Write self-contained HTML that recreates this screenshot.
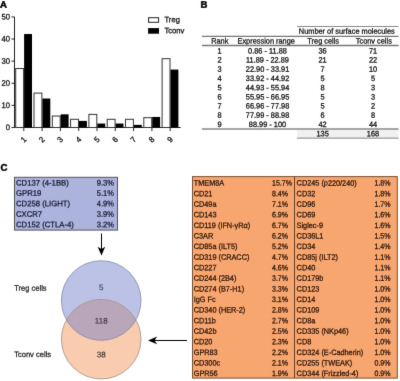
<!DOCTYPE html>
<html><head><meta charset="utf-8"><style>
html,body{margin:0;padding:0;background:#fff;width:400px;height:381px;overflow:hidden}
svg{display:block;font-family:"Liberation Sans", sans-serif}
</style></head><body>
<svg width="400" height="381" viewBox="0 0 400 381">
<defs><filter id="bl" x="0" y="0" width="400" height="381" filterUnits="userSpaceOnUse" color-interpolation-filters="sRGB"><feConvolveMatrix order="3" kernelMatrix="1 10 1 10 100 10 1 10 1" divisor="144" edgeMode="duplicate"/></filter></defs>
<g filter="url(#bl)">
<rect width="400" height="381" fill="#fff"/>
<text transform="translate(0.10,7.70) rotate(0.05) scale(1.000,1.0)" font-size="9.6" text-anchor="start" fill="#000" stroke="#000" stroke-width="0.45" font-weight="bold">A</text>
<line x1="14.5" y1="17" x2="14.5" y2="127.5" stroke="#222" stroke-width="1"/>
<line x1="11.5" y1="127.5" x2="14.5" y2="127.5" stroke="#222" stroke-width="1"/>
<text transform="translate(10.00,130.10) rotate(0.05) scale(0.955,1.0)" font-size="8.0" text-anchor="end" fill="#111" stroke="#111" stroke-width="0.3" font-weight="normal">0</text>
<line x1="11.5" y1="105.38" x2="14.5" y2="105.38" stroke="#222" stroke-width="1"/>
<text transform="translate(10.00,107.98) rotate(0.05) scale(0.955,1.0)" font-size="8.0" text-anchor="end" fill="#111" stroke="#111" stroke-width="0.3" font-weight="normal">10</text>
<line x1="11.5" y1="83.25999999999999" x2="14.5" y2="83.25999999999999" stroke="#222" stroke-width="1"/>
<text transform="translate(10.00,85.86) rotate(0.05) scale(0.955,1.0)" font-size="8.0" text-anchor="end" fill="#111" stroke="#111" stroke-width="0.3" font-weight="normal">20</text>
<line x1="11.5" y1="61.14" x2="14.5" y2="61.14" stroke="#222" stroke-width="1"/>
<text transform="translate(10.00,63.74) rotate(0.05) scale(0.955,1.0)" font-size="8.0" text-anchor="end" fill="#111" stroke="#111" stroke-width="0.3" font-weight="normal">30</text>
<line x1="11.5" y1="39.019999999999996" x2="14.5" y2="39.019999999999996" stroke="#222" stroke-width="1"/>
<text transform="translate(10.00,41.62) rotate(0.05) scale(0.955,1.0)" font-size="8.0" text-anchor="end" fill="#111" stroke="#111" stroke-width="0.3" font-weight="normal">40</text>
<line x1="11.5" y1="16.89999999999999" x2="14.5" y2="16.89999999999999" stroke="#222" stroke-width="1"/>
<text transform="translate(10.00,19.50) rotate(0.05) scale(0.955,1.0)" font-size="8.0" text-anchor="end" fill="#111" stroke="#111" stroke-width="0.3" font-weight="normal">50</text>
<line x1="14.5" y1="127.5" x2="180.7" y2="127.5" stroke="#222" stroke-width="1"/>
<rect x="15.700000000000001" y="68.51333333333332" width="7.9" height="58.98666666666667" fill="#fff" stroke="#333" stroke-width="1"/>
<rect x="24.1" y="34.016666666666666" width="7.9" height="93.48333333333333" fill="#000" stroke="none" stroke-width="1"/>
<line x1="23.8" y1="127.5" x2="23.8" y2="131.0" stroke="#222" stroke-width="1"/>
<text font-size="8.0" text-anchor="middle" fill="#111" stroke="#111" stroke-width="0.3" transform="translate(25.50,141.5) rotate(-45) scale(0.955,1)">1</text>
<rect x="34.0" y="93.0911111111111" width="7.9" height="34.40888888888889" fill="#fff" stroke="#333" stroke-width="1"/>
<rect x="42.4" y="98.53333333333333" width="7.9" height="28.966666666666672" fill="#000" stroke="none" stroke-width="1"/>
<line x1="42.1" y1="127.5" x2="42.1" y2="131.0" stroke="#222" stroke-width="1"/>
<text font-size="8.0" text-anchor="middle" fill="#111" stroke="#111" stroke-width="0.3" transform="translate(43.80,141.5) rotate(-45) scale(0.955,1)">2</text>
<rect x="52.300000000000004" y="116.03037037037038" width="7.9" height="11.46962962962963" fill="#fff" stroke="#333" stroke-width="1"/>
<rect x="60.7" y="114.33333333333333" width="7.9" height="13.166666666666666" fill="#000" stroke="none" stroke-width="1"/>
<line x1="60.400000000000006" y1="127.5" x2="60.400000000000006" y2="131.0" stroke="#222" stroke-width="1"/>
<text font-size="8.0" text-anchor="middle" fill="#111" stroke="#111" stroke-width="0.3" transform="translate(62.10,141.5) rotate(-45) scale(0.955,1)">3</text>
<rect x="70.60000000000001" y="119.30740740740741" width="7.9" height="8.192592592592593" fill="#fff" stroke="#333" stroke-width="1"/>
<rect x="79.0" y="120.91666666666667" width="7.9" height="6.583333333333333" fill="#000" stroke="none" stroke-width="1"/>
<line x1="78.7" y1="127.5" x2="78.7" y2="131.0" stroke="#222" stroke-width="1"/>
<text font-size="8.0" text-anchor="middle" fill="#111" stroke="#111" stroke-width="0.3" transform="translate(80.40,141.5) rotate(-45) scale(0.955,1)">4</text>
<rect x="88.9" y="114.39185185185185" width="7.9" height="13.10814814814815" fill="#fff" stroke="#333" stroke-width="1"/>
<rect x="97.3" y="123.55" width="7.9" height="3.95" fill="#000" stroke="none" stroke-width="1"/>
<line x1="97.0" y1="127.5" x2="97.0" y2="131.0" stroke="#222" stroke-width="1"/>
<text font-size="8.0" text-anchor="middle" fill="#111" stroke="#111" stroke-width="0.3" transform="translate(98.70,141.5) rotate(-45) scale(0.955,1)">5</text>
<rect x="107.2" y="119.30740740740741" width="7.9" height="8.192592592592593" fill="#fff" stroke="#333" stroke-width="1"/>
<rect x="115.6" y="123.55" width="7.9" height="3.95" fill="#000" stroke="none" stroke-width="1"/>
<line x1="115.3" y1="127.5" x2="115.3" y2="131.0" stroke="#222" stroke-width="1"/>
<text font-size="8.0" text-anchor="middle" fill="#111" stroke="#111" stroke-width="0.3" transform="translate(117.00,141.5) rotate(-45) scale(0.955,1)">6</text>
<rect x="125.50000000000003" y="119.30740740740741" width="7.9" height="8.192592592592593" fill="#fff" stroke="#333" stroke-width="1"/>
<rect x="133.90000000000003" y="124.86666666666666" width="7.9" height="2.6333333333333337" fill="#000" stroke="none" stroke-width="1"/>
<line x1="133.60000000000002" y1="127.5" x2="133.60000000000002" y2="131.0" stroke="#222" stroke-width="1"/>
<text font-size="8.0" text-anchor="middle" fill="#111" stroke="#111" stroke-width="0.3" transform="translate(135.30,141.5) rotate(-45) scale(0.955,1)">7</text>
<rect x="143.8" y="117.66888888888889" width="7.9" height="9.831111111111113" fill="#fff" stroke="#333" stroke-width="1"/>
<rect x="152.20000000000002" y="116.96666666666667" width="7.9" height="10.533333333333335" fill="#000" stroke="none" stroke-width="1"/>
<line x1="151.9" y1="127.5" x2="151.9" y2="131.0" stroke="#222" stroke-width="1"/>
<text font-size="8.0" text-anchor="middle" fill="#111" stroke="#111" stroke-width="0.3" transform="translate(153.60,141.5) rotate(-45) scale(0.955,1)">8</text>
<rect x="162.10000000000002" y="58.68222222222222" width="7.9" height="68.81777777777778" fill="#fff" stroke="#333" stroke-width="1"/>
<rect x="170.50000000000003" y="69.56666666666666" width="7.9" height="57.933333333333344" fill="#000" stroke="none" stroke-width="1"/>
<line x1="170.20000000000002" y1="127.5" x2="170.20000000000002" y2="131.0" stroke="#222" stroke-width="1"/>
<text font-size="8.0" text-anchor="middle" fill="#111" stroke="#111" stroke-width="0.3" transform="translate(171.90,141.5) rotate(-45) scale(0.955,1)">9</text>
<rect x="148.6" y="17.7" width="10" height="4.6" fill="#fff" stroke="#222" stroke-width="1"/>
<rect x="148.1" y="28.1" width="10.9" height="5.6" fill="#000" stroke="none" stroke-width="1"/>
<text transform="translate(164.50,22.30) rotate(0.05) scale(0.965,1.0)" font-size="7.9" text-anchor="start" fill="#111" stroke="#111" stroke-width="0.28" font-weight="normal">Treg</text>
<text transform="translate(164.50,33.20) rotate(0.05) scale(0.965,1.0)" font-size="7.9" text-anchor="start" fill="#111" stroke="#111" stroke-width="0.28" font-weight="normal">Tconv</text>
<text transform="translate(200.50,7.70) rotate(0.05) scale(1.000,1.0)" font-size="9.6" text-anchor="start" fill="#000" stroke="#000" stroke-width="0.45" font-weight="bold">B</text>
<rect x="297" y="129.5" width="101.5" height="8.3" fill="#f1f1f1" stroke="none" stroke-width="1"/>
<line x1="297" y1="26.5" x2="398.5" y2="26.5" stroke="#888" stroke-width="1"/>
<text transform="translate(346.80,33.80) rotate(0.05) scale(0.948,1.0)" font-size="7.8" text-anchor="middle" fill="#111" stroke="#111" stroke-width="0.28" font-weight="normal">Number of surface molecules</text>
<line x1="202" y1="36.3" x2="398.5" y2="36.3" stroke="#777" stroke-width="1.3"/>
<text transform="translate(219.80,43.60) rotate(0.05) scale(0.948,1.0)" font-size="7.8" text-anchor="middle" fill="#111" stroke="#111" stroke-width="0.28" font-weight="normal">Rank</text>
<text transform="translate(266.20,43.60) rotate(0.05) scale(0.948,1.0)" font-size="7.8" text-anchor="middle" fill="#111" stroke="#111" stroke-width="0.28" font-weight="normal">Expression range</text>
<text transform="translate(323.20,43.60) rotate(0.05) scale(0.948,1.0)" font-size="7.8" text-anchor="middle" fill="#111" stroke="#111" stroke-width="0.28" font-weight="normal">Treg cells</text>
<text transform="translate(373.80,43.60) rotate(0.05) scale(0.948,1.0)" font-size="7.8" text-anchor="middle" fill="#111" stroke="#111" stroke-width="0.28" font-weight="normal">Tconv cells</text>
<line x1="202" y1="45.5" x2="398.5" y2="45.5" stroke="#777" stroke-width="1.3"/>
<text transform="translate(219.50,53.40) rotate(0.05) scale(0.948,1.0)" font-size="7.8" text-anchor="middle" fill="#111" stroke="#111" stroke-width="0.28" font-weight="normal">1</text>
<text transform="translate(267.50,53.40) rotate(0.05) scale(0.948,1.0)" font-size="7.8" text-anchor="middle" fill="#111" stroke="#111" stroke-width="0.28" font-weight="normal">0.86 - 11.88</text>
<text transform="translate(322.60,53.40) rotate(0.05) scale(0.948,1.0)" font-size="7.8" text-anchor="middle" fill="#111" stroke="#111" stroke-width="0.28" font-weight="normal">36</text>
<text transform="translate(373.00,53.40) rotate(0.05) scale(0.948,1.0)" font-size="7.8" text-anchor="middle" fill="#111" stroke="#111" stroke-width="0.28" font-weight="normal">71</text>
<text transform="translate(219.50,62.60) rotate(0.05) scale(0.948,1.0)" font-size="7.8" text-anchor="middle" fill="#111" stroke="#111" stroke-width="0.28" font-weight="normal">2</text>
<text transform="translate(267.50,62.60) rotate(0.05) scale(0.948,1.0)" font-size="7.8" text-anchor="middle" fill="#111" stroke="#111" stroke-width="0.28" font-weight="normal">11.89 - 22.89</text>
<text transform="translate(322.60,62.60) rotate(0.05) scale(0.948,1.0)" font-size="7.8" text-anchor="middle" fill="#111" stroke="#111" stroke-width="0.28" font-weight="normal">21</text>
<text transform="translate(373.00,62.60) rotate(0.05) scale(0.948,1.0)" font-size="7.8" text-anchor="middle" fill="#111" stroke="#111" stroke-width="0.28" font-weight="normal">22</text>
<text transform="translate(219.50,71.80) rotate(0.05) scale(0.948,1.0)" font-size="7.8" text-anchor="middle" fill="#111" stroke="#111" stroke-width="0.28" font-weight="normal">3</text>
<text transform="translate(267.50,71.80) rotate(0.05) scale(0.948,1.0)" font-size="7.8" text-anchor="middle" fill="#111" stroke="#111" stroke-width="0.28" font-weight="normal">22.90 - 33.91</text>
<text transform="translate(322.60,71.80) rotate(0.05) scale(0.948,1.0)" font-size="7.8" text-anchor="middle" fill="#111" stroke="#111" stroke-width="0.28" font-weight="normal">7</text>
<text transform="translate(373.00,71.80) rotate(0.05) scale(0.948,1.0)" font-size="7.8" text-anchor="middle" fill="#111" stroke="#111" stroke-width="0.28" font-weight="normal">10</text>
<text transform="translate(219.50,81.00) rotate(0.05) scale(0.948,1.0)" font-size="7.8" text-anchor="middle" fill="#111" stroke="#111" stroke-width="0.28" font-weight="normal">4</text>
<text transform="translate(267.50,81.00) rotate(0.05) scale(0.948,1.0)" font-size="7.8" text-anchor="middle" fill="#111" stroke="#111" stroke-width="0.28" font-weight="normal">33.92 - 44.92</text>
<text transform="translate(322.60,81.00) rotate(0.05) scale(0.948,1.0)" font-size="7.8" text-anchor="middle" fill="#111" stroke="#111" stroke-width="0.28" font-weight="normal">5</text>
<text transform="translate(373.00,81.00) rotate(0.05) scale(0.948,1.0)" font-size="7.8" text-anchor="middle" fill="#111" stroke="#111" stroke-width="0.28" font-weight="normal">5</text>
<text transform="translate(219.50,90.20) rotate(0.05) scale(0.948,1.0)" font-size="7.8" text-anchor="middle" fill="#111" stroke="#111" stroke-width="0.28" font-weight="normal">5</text>
<text transform="translate(267.50,90.20) rotate(0.05) scale(0.948,1.0)" font-size="7.8" text-anchor="middle" fill="#111" stroke="#111" stroke-width="0.28" font-weight="normal">44.93 - 55.94</text>
<text transform="translate(322.60,90.20) rotate(0.05) scale(0.948,1.0)" font-size="7.8" text-anchor="middle" fill="#111" stroke="#111" stroke-width="0.28" font-weight="normal">8</text>
<text transform="translate(373.00,90.20) rotate(0.05) scale(0.948,1.0)" font-size="7.8" text-anchor="middle" fill="#111" stroke="#111" stroke-width="0.28" font-weight="normal">3</text>
<text transform="translate(219.50,99.40) rotate(0.05) scale(0.948,1.0)" font-size="7.8" text-anchor="middle" fill="#111" stroke="#111" stroke-width="0.28" font-weight="normal">6</text>
<text transform="translate(267.50,99.40) rotate(0.05) scale(0.948,1.0)" font-size="7.8" text-anchor="middle" fill="#111" stroke="#111" stroke-width="0.28" font-weight="normal">55.95 - 66.95</text>
<text transform="translate(322.60,99.40) rotate(0.05) scale(0.948,1.0)" font-size="7.8" text-anchor="middle" fill="#111" stroke="#111" stroke-width="0.28" font-weight="normal">5</text>
<text transform="translate(373.00,99.40) rotate(0.05) scale(0.948,1.0)" font-size="7.8" text-anchor="middle" fill="#111" stroke="#111" stroke-width="0.28" font-weight="normal">3</text>
<text transform="translate(219.50,108.60) rotate(0.05) scale(0.948,1.0)" font-size="7.8" text-anchor="middle" fill="#111" stroke="#111" stroke-width="0.28" font-weight="normal">7</text>
<text transform="translate(267.50,108.60) rotate(0.05) scale(0.948,1.0)" font-size="7.8" text-anchor="middle" fill="#111" stroke="#111" stroke-width="0.28" font-weight="normal">66.96 - 77.98</text>
<text transform="translate(322.60,108.60) rotate(0.05) scale(0.948,1.0)" font-size="7.8" text-anchor="middle" fill="#111" stroke="#111" stroke-width="0.28" font-weight="normal">5</text>
<text transform="translate(373.00,108.60) rotate(0.05) scale(0.948,1.0)" font-size="7.8" text-anchor="middle" fill="#111" stroke="#111" stroke-width="0.28" font-weight="normal">2</text>
<text transform="translate(219.50,117.80) rotate(0.05) scale(0.948,1.0)" font-size="7.8" text-anchor="middle" fill="#111" stroke="#111" stroke-width="0.28" font-weight="normal">8</text>
<text transform="translate(267.50,117.80) rotate(0.05) scale(0.948,1.0)" font-size="7.8" text-anchor="middle" fill="#111" stroke="#111" stroke-width="0.28" font-weight="normal">77.99 - 88.98</text>
<text transform="translate(322.60,117.80) rotate(0.05) scale(0.948,1.0)" font-size="7.8" text-anchor="middle" fill="#111" stroke="#111" stroke-width="0.28" font-weight="normal">6</text>
<text transform="translate(373.00,117.80) rotate(0.05) scale(0.948,1.0)" font-size="7.8" text-anchor="middle" fill="#111" stroke="#111" stroke-width="0.28" font-weight="normal">8</text>
<text transform="translate(219.50,127.00) rotate(0.05) scale(0.948,1.0)" font-size="7.8" text-anchor="middle" fill="#111" stroke="#111" stroke-width="0.28" font-weight="normal">9</text>
<text transform="translate(267.50,127.00) rotate(0.05) scale(0.948,1.0)" font-size="7.8" text-anchor="middle" fill="#111" stroke="#111" stroke-width="0.28" font-weight="normal">88.99 - 100</text>
<text transform="translate(322.60,127.00) rotate(0.05) scale(0.948,1.0)" font-size="7.8" text-anchor="middle" fill="#111" stroke="#111" stroke-width="0.28" font-weight="normal">42</text>
<text transform="translate(373.00,127.00) rotate(0.05) scale(0.948,1.0)" font-size="7.8" text-anchor="middle" fill="#111" stroke="#111" stroke-width="0.28" font-weight="normal">44</text>
<line x1="202" y1="129" x2="398.5" y2="129" stroke="#888" stroke-width="1.4"/>
<text transform="translate(322.60,136.20) rotate(0.05) scale(0.948,1.0)" font-size="7.8" text-anchor="middle" fill="#111" stroke="#111" stroke-width="0.28" font-weight="normal">135</text>
<text transform="translate(373.00,136.20) rotate(0.05) scale(0.948,1.0)" font-size="7.8" text-anchor="middle" fill="#111" stroke="#111" stroke-width="0.28" font-weight="normal">168</text>
<line x1="297" y1="138.2" x2="398.5" y2="138.2" stroke="#999" stroke-width="1.2"/>
<text transform="translate(0.50,170.70) rotate(0.05) scale(1.000,1.0)" font-size="9.6" text-anchor="start" fill="#000" stroke="#000" stroke-width="0.45" font-weight="bold">C</text>
<rect x="14.5" y="177.3" width="103.0" height="52.8" fill="#acb4de" stroke="#555" stroke-width="1"/>
<text transform="translate(16.00,185.40) rotate(0.05) scale(0.965,1.0)" font-size="8.0" text-anchor="start" fill="#161830" stroke="#161830" stroke-width="0.25" font-weight="normal">CD137 (4-1BB)</text>
<text transform="translate(96.80,185.40) rotate(0.05) scale(0.940,1.0)" font-size="8.0" text-anchor="start" fill="#161830" stroke="#161830" stroke-width="0.25" font-weight="normal">9.3%</text>
<text transform="translate(16.00,195.85) rotate(0.05) scale(0.965,1.0)" font-size="8.0" text-anchor="start" fill="#161830" stroke="#161830" stroke-width="0.25" font-weight="normal">GPR19</text>
<text transform="translate(96.80,195.85) rotate(0.05) scale(0.940,1.0)" font-size="8.0" text-anchor="start" fill="#161830" stroke="#161830" stroke-width="0.25" font-weight="normal">5.1%</text>
<text transform="translate(16.00,206.30) rotate(0.05) scale(0.965,1.0)" font-size="8.0" text-anchor="start" fill="#161830" stroke="#161830" stroke-width="0.25" font-weight="normal">CD258 (LIGHT)</text>
<text transform="translate(96.80,206.30) rotate(0.05) scale(0.940,1.0)" font-size="8.0" text-anchor="start" fill="#161830" stroke="#161830" stroke-width="0.25" font-weight="normal">4.9%</text>
<text transform="translate(16.00,216.75) rotate(0.05) scale(0.965,1.0)" font-size="8.0" text-anchor="start" fill="#161830" stroke="#161830" stroke-width="0.25" font-weight="normal">CXCR7</text>
<text transform="translate(96.80,216.75) rotate(0.05) scale(0.940,1.0)" font-size="8.0" text-anchor="start" fill="#161830" stroke="#161830" stroke-width="0.25" font-weight="normal">3.9%</text>
<text transform="translate(16.00,227.20) rotate(0.05) scale(0.965,1.0)" font-size="8.0" text-anchor="start" fill="#161830" stroke="#161830" stroke-width="0.25" font-weight="normal">CD152 (CTLA-4)</text>
<text transform="translate(96.80,227.20) rotate(0.05) scale(0.940,1.0)" font-size="8.0" text-anchor="start" fill="#161830" stroke="#161830" stroke-width="0.25" font-weight="normal">3.2%</text>
<line x1="101.5" y1="233.5" x2="101.5" y2="250" stroke="#000" stroke-width="1"/>
<path d="M101.5,255.5 L97.6,246.8 L101.5,249 L105.2,246.8 Z" fill="#000"/>
<clipPath id="cb"><circle cx="101.2" cy="300.5" r="39.8"/></clipPath>
<circle cx="101.2" cy="300.5" r="39.8" fill="rgb(188,194,230)"/>
<circle cx="101.2" cy="339.2" r="39.8" fill="rgb(249,203,175)"/>
<circle cx="101.2" cy="339.2" r="39.8" fill="rgb(186,166,186)" clip-path="url(#cb)"/>
<circle cx="101.2" cy="339.2" r="39.8" fill="none" stroke="#a09088" stroke-width="0.8"/>
<circle cx="101.2" cy="300.5" r="39.8" fill="none" stroke="#8088a8" stroke-width="0.8"/>
<text transform="translate(101.20,290.10) rotate(0.05) scale(1.000,1.0)" font-size="8.0" text-anchor="middle" fill="#404668" stroke="#404668" stroke-width="0.15" font-weight="normal">5</text>
<text transform="translate(101.20,323.40) rotate(0.05) scale(1.000,1.0)" font-size="8.0" text-anchor="middle" fill="#3a3040" stroke="#3a3040" stroke-width="0.15" font-weight="normal">118</text>
<text transform="translate(101.20,357.20) rotate(0.05) scale(1.000,1.0)" font-size="8.0" text-anchor="middle" fill="#3a3030" stroke="#3a3030" stroke-width="0.15" font-weight="normal">38</text>
<text transform="translate(14.20,290.70) rotate(0.05) scale(0.955,1.0)" font-size="7.9" text-anchor="start" fill="#222" stroke="#222" stroke-width="0.25" font-weight="normal">Treg cells</text>
<text transform="translate(14.20,357.00) rotate(0.05) scale(0.955,1.0)" font-size="7.9" text-anchor="start" fill="#222" stroke="#222" stroke-width="0.25" font-weight="normal">Tconv cells</text>
<line x1="153" y1="340.5" x2="187" y2="340.5" stroke="#000" stroke-width="1"/>
<path d="M148.0,340.5 L157.2,336.6 L154.5,340.5 L157.2,344.3 Z" fill="#000"/>
<rect x="192.5" y="176.6" width="204.8" height="201.5" fill="#f8a670" stroke="#7a5030" stroke-width="1"/>
<line x1="294.5" y1="176.6" x2="294.5" y2="378.1" stroke="#6a4020" stroke-width="1"/>
<text transform="translate(193.70,185.60) rotate(0.05) scale(0.940,1.0)" font-size="7.8" text-anchor="start" fill="#2a1508" stroke="#2a1508" stroke-width="0.26" font-weight="normal">TMEM8A</text>
<text transform="translate(272.00,185.60) rotate(0.05) scale(0.904,1.0)" font-size="7.8" text-anchor="start" fill="#2a1508" stroke="#2a1508" stroke-width="0.26" font-weight="normal">15.7%</text>
<text transform="translate(296.60,185.60) rotate(0.05) scale(0.940,1.0)" font-size="7.8" text-anchor="start" fill="#2a1508" stroke="#2a1508" stroke-width="0.26" font-weight="normal">CD245 (p220/240)</text>
<text transform="translate(374.50,185.60) rotate(0.05) scale(0.904,1.0)" font-size="7.8" text-anchor="start" fill="#2a1508" stroke="#2a1508" stroke-width="0.26" font-weight="normal">1.8%</text>
<text transform="translate(193.70,196.18) rotate(0.05) scale(0.940,1.0)" font-size="7.8" text-anchor="start" fill="#2a1508" stroke="#2a1508" stroke-width="0.26" font-weight="normal">CD21</text>
<text transform="translate(272.00,196.18) rotate(0.05) scale(0.904,1.0)" font-size="7.8" text-anchor="start" fill="#2a1508" stroke="#2a1508" stroke-width="0.26" font-weight="normal">8.4%</text>
<text transform="translate(296.60,196.18) rotate(0.05) scale(0.940,1.0)" font-size="7.8" text-anchor="start" fill="#2a1508" stroke="#2a1508" stroke-width="0.26" font-weight="normal">CD32</text>
<text transform="translate(374.50,196.18) rotate(0.05) scale(0.904,1.0)" font-size="7.8" text-anchor="start" fill="#2a1508" stroke="#2a1508" stroke-width="0.26" font-weight="normal">1.8%</text>
<text transform="translate(193.70,206.76) rotate(0.05) scale(0.940,1.0)" font-size="7.8" text-anchor="start" fill="#2a1508" stroke="#2a1508" stroke-width="0.26" font-weight="normal">CD49a</text>
<text transform="translate(272.00,206.76) rotate(0.05) scale(0.904,1.0)" font-size="7.8" text-anchor="start" fill="#2a1508" stroke="#2a1508" stroke-width="0.26" font-weight="normal">7.1%</text>
<text transform="translate(296.60,206.76) rotate(0.05) scale(0.940,1.0)" font-size="7.8" text-anchor="start" fill="#2a1508" stroke="#2a1508" stroke-width="0.26" font-weight="normal">CD96</text>
<text transform="translate(374.50,206.76) rotate(0.05) scale(0.904,1.0)" font-size="7.8" text-anchor="start" fill="#2a1508" stroke="#2a1508" stroke-width="0.26" font-weight="normal">1.7%</text>
<text transform="translate(193.70,217.34) rotate(0.05) scale(0.940,1.0)" font-size="7.8" text-anchor="start" fill="#2a1508" stroke="#2a1508" stroke-width="0.26" font-weight="normal">CD143</text>
<text transform="translate(272.00,217.34) rotate(0.05) scale(0.904,1.0)" font-size="7.8" text-anchor="start" fill="#2a1508" stroke="#2a1508" stroke-width="0.26" font-weight="normal">6.9%</text>
<text transform="translate(296.60,217.34) rotate(0.05) scale(0.940,1.0)" font-size="7.8" text-anchor="start" fill="#2a1508" stroke="#2a1508" stroke-width="0.26" font-weight="normal">CD69</text>
<text transform="translate(374.50,217.34) rotate(0.05) scale(0.904,1.0)" font-size="7.8" text-anchor="start" fill="#2a1508" stroke="#2a1508" stroke-width="0.26" font-weight="normal">1.6%</text>
<text transform="translate(193.70,227.92) rotate(0.05) scale(0.940,1.0)" font-size="7.8" text-anchor="start" fill="#2a1508" stroke="#2a1508" stroke-width="0.26" font-weight="normal">CD119 (IFN-γRα)</text>
<text transform="translate(272.00,227.92) rotate(0.05) scale(0.904,1.0)" font-size="7.8" text-anchor="start" fill="#2a1508" stroke="#2a1508" stroke-width="0.26" font-weight="normal">6.7%</text>
<text transform="translate(296.60,227.92) rotate(0.05) scale(0.940,1.0)" font-size="7.8" text-anchor="start" fill="#2a1508" stroke="#2a1508" stroke-width="0.26" font-weight="normal">Siglec-9</text>
<text transform="translate(374.50,227.92) rotate(0.05) scale(0.904,1.0)" font-size="7.8" text-anchor="start" fill="#2a1508" stroke="#2a1508" stroke-width="0.26" font-weight="normal">1.6%</text>
<text transform="translate(193.70,238.50) rotate(0.05) scale(0.940,1.0)" font-size="7.8" text-anchor="start" fill="#2a1508" stroke="#2a1508" stroke-width="0.26" font-weight="normal">C3AR</text>
<text transform="translate(272.00,238.50) rotate(0.05) scale(0.904,1.0)" font-size="7.8" text-anchor="start" fill="#2a1508" stroke="#2a1508" stroke-width="0.26" font-weight="normal">6.2%</text>
<text transform="translate(296.60,238.50) rotate(0.05) scale(0.940,1.0)" font-size="7.8" text-anchor="start" fill="#2a1508" stroke="#2a1508" stroke-width="0.26" font-weight="normal">CD36L1</text>
<text transform="translate(374.50,238.50) rotate(0.05) scale(0.904,1.0)" font-size="7.8" text-anchor="start" fill="#2a1508" stroke="#2a1508" stroke-width="0.26" font-weight="normal">1.5%</text>
<text transform="translate(193.70,249.08) rotate(0.05) scale(0.940,1.0)" font-size="7.8" text-anchor="start" fill="#2a1508" stroke="#2a1508" stroke-width="0.26" font-weight="normal">CD85a (ILT5)</text>
<text transform="translate(272.00,249.08) rotate(0.05) scale(0.904,1.0)" font-size="7.8" text-anchor="start" fill="#2a1508" stroke="#2a1508" stroke-width="0.26" font-weight="normal">5.2%</text>
<text transform="translate(296.60,249.08) rotate(0.05) scale(0.940,1.0)" font-size="7.8" text-anchor="start" fill="#2a1508" stroke="#2a1508" stroke-width="0.26" font-weight="normal">CD34</text>
<text transform="translate(374.50,249.08) rotate(0.05) scale(0.904,1.0)" font-size="7.8" text-anchor="start" fill="#2a1508" stroke="#2a1508" stroke-width="0.26" font-weight="normal">1.4%</text>
<text transform="translate(193.70,259.66) rotate(0.05) scale(0.940,1.0)" font-size="7.8" text-anchor="start" fill="#2a1508" stroke="#2a1508" stroke-width="0.26" font-weight="normal">CD319 (CRACC)</text>
<text transform="translate(272.00,259.66) rotate(0.05) scale(0.904,1.0)" font-size="7.8" text-anchor="start" fill="#2a1508" stroke="#2a1508" stroke-width="0.26" font-weight="normal">4.7%</text>
<text transform="translate(296.60,259.66) rotate(0.05) scale(0.940,1.0)" font-size="7.8" text-anchor="start" fill="#2a1508" stroke="#2a1508" stroke-width="0.26" font-weight="normal">CD85j (ILT2)</text>
<text transform="translate(374.50,259.66) rotate(0.05) scale(0.904,1.0)" font-size="7.8" text-anchor="start" fill="#2a1508" stroke="#2a1508" stroke-width="0.26" font-weight="normal">1.1%</text>
<text transform="translate(193.70,270.24) rotate(0.05) scale(0.940,1.0)" font-size="7.8" text-anchor="start" fill="#2a1508" stroke="#2a1508" stroke-width="0.26" font-weight="normal">CD227</text>
<text transform="translate(272.00,270.24) rotate(0.05) scale(0.904,1.0)" font-size="7.8" text-anchor="start" fill="#2a1508" stroke="#2a1508" stroke-width="0.26" font-weight="normal">4.6%</text>
<text transform="translate(296.60,270.24) rotate(0.05) scale(0.940,1.0)" font-size="7.8" text-anchor="start" fill="#2a1508" stroke="#2a1508" stroke-width="0.26" font-weight="normal">CD40</text>
<text transform="translate(374.50,270.24) rotate(0.05) scale(0.904,1.0)" font-size="7.8" text-anchor="start" fill="#2a1508" stroke="#2a1508" stroke-width="0.26" font-weight="normal">1.1%</text>
<text transform="translate(193.70,280.82) rotate(0.05) scale(0.940,1.0)" font-size="7.8" text-anchor="start" fill="#2a1508" stroke="#2a1508" stroke-width="0.26" font-weight="normal">CD244 (2B4)</text>
<text transform="translate(272.00,280.82) rotate(0.05) scale(0.904,1.0)" font-size="7.8" text-anchor="start" fill="#2a1508" stroke="#2a1508" stroke-width="0.26" font-weight="normal">3.7%</text>
<text transform="translate(296.60,280.82) rotate(0.05) scale(0.940,1.0)" font-size="7.8" text-anchor="start" fill="#2a1508" stroke="#2a1508" stroke-width="0.26" font-weight="normal">CD179b</text>
<text transform="translate(374.50,280.82) rotate(0.05) scale(0.904,1.0)" font-size="7.8" text-anchor="start" fill="#2a1508" stroke="#2a1508" stroke-width="0.26" font-weight="normal">1.1%</text>
<text transform="translate(193.70,291.40) rotate(0.05) scale(0.940,1.0)" font-size="7.8" text-anchor="start" fill="#2a1508" stroke="#2a1508" stroke-width="0.26" font-weight="normal">CD274 (B7-H1)</text>
<text transform="translate(272.00,291.40) rotate(0.05) scale(0.904,1.0)" font-size="7.8" text-anchor="start" fill="#2a1508" stroke="#2a1508" stroke-width="0.26" font-weight="normal">3.3%</text>
<text transform="translate(296.60,291.40) rotate(0.05) scale(0.940,1.0)" font-size="7.8" text-anchor="start" fill="#2a1508" stroke="#2a1508" stroke-width="0.26" font-weight="normal">CD123</text>
<text transform="translate(374.50,291.40) rotate(0.05) scale(0.904,1.0)" font-size="7.8" text-anchor="start" fill="#2a1508" stroke="#2a1508" stroke-width="0.26" font-weight="normal">1.0%</text>
<text transform="translate(193.70,301.98) rotate(0.05) scale(0.940,1.0)" font-size="7.8" text-anchor="start" fill="#2a1508" stroke="#2a1508" stroke-width="0.26" font-weight="normal">IgG Fc</text>
<text transform="translate(272.00,301.98) rotate(0.05) scale(0.904,1.0)" font-size="7.8" text-anchor="start" fill="#2a1508" stroke="#2a1508" stroke-width="0.26" font-weight="normal">3.1%</text>
<text transform="translate(296.60,301.98) rotate(0.05) scale(0.940,1.0)" font-size="7.8" text-anchor="start" fill="#2a1508" stroke="#2a1508" stroke-width="0.26" font-weight="normal">CD14</text>
<text transform="translate(374.50,301.98) rotate(0.05) scale(0.904,1.0)" font-size="7.8" text-anchor="start" fill="#2a1508" stroke="#2a1508" stroke-width="0.26" font-weight="normal">1.0%</text>
<text transform="translate(193.70,312.56) rotate(0.05) scale(0.940,1.0)" font-size="7.8" text-anchor="start" fill="#2a1508" stroke="#2a1508" stroke-width="0.26" font-weight="normal">CD340 (HER-2)</text>
<text transform="translate(272.00,312.56) rotate(0.05) scale(0.904,1.0)" font-size="7.8" text-anchor="start" fill="#2a1508" stroke="#2a1508" stroke-width="0.26" font-weight="normal">2.8%</text>
<text transform="translate(296.60,312.56) rotate(0.05) scale(0.940,1.0)" font-size="7.8" text-anchor="start" fill="#2a1508" stroke="#2a1508" stroke-width="0.26" font-weight="normal">CD109</text>
<text transform="translate(374.50,312.56) rotate(0.05) scale(0.904,1.0)" font-size="7.8" text-anchor="start" fill="#2a1508" stroke="#2a1508" stroke-width="0.26" font-weight="normal">1.0%</text>
<text transform="translate(193.70,323.14) rotate(0.05) scale(0.940,1.0)" font-size="7.8" text-anchor="start" fill="#2a1508" stroke="#2a1508" stroke-width="0.26" font-weight="normal">CD11b</text>
<text transform="translate(272.00,323.14) rotate(0.05) scale(0.904,1.0)" font-size="7.8" text-anchor="start" fill="#2a1508" stroke="#2a1508" stroke-width="0.26" font-weight="normal">2.7%</text>
<text transform="translate(296.60,323.14) rotate(0.05) scale(0.940,1.0)" font-size="7.8" text-anchor="start" fill="#2a1508" stroke="#2a1508" stroke-width="0.26" font-weight="normal">CD8a</text>
<text transform="translate(374.50,323.14) rotate(0.05) scale(0.904,1.0)" font-size="7.8" text-anchor="start" fill="#2a1508" stroke="#2a1508" stroke-width="0.26" font-weight="normal">1.0%</text>
<text transform="translate(193.70,333.72) rotate(0.05) scale(0.940,1.0)" font-size="7.8" text-anchor="start" fill="#2a1508" stroke="#2a1508" stroke-width="0.26" font-weight="normal">CD42b</text>
<text transform="translate(272.00,333.72) rotate(0.05) scale(0.904,1.0)" font-size="7.8" text-anchor="start" fill="#2a1508" stroke="#2a1508" stroke-width="0.26" font-weight="normal">2.5%</text>
<text transform="translate(296.60,333.72) rotate(0.05) scale(0.940,1.0)" font-size="7.8" text-anchor="start" fill="#2a1508" stroke="#2a1508" stroke-width="0.26" font-weight="normal">CD335 (NKp46)</text>
<text transform="translate(374.50,333.72) rotate(0.05) scale(0.904,1.0)" font-size="7.8" text-anchor="start" fill="#2a1508" stroke="#2a1508" stroke-width="0.26" font-weight="normal">1.0%</text>
<text transform="translate(193.70,344.30) rotate(0.05) scale(0.940,1.0)" font-size="7.8" text-anchor="start" fill="#2a1508" stroke="#2a1508" stroke-width="0.26" font-weight="normal">CD20</text>
<text transform="translate(272.00,344.30) rotate(0.05) scale(0.904,1.0)" font-size="7.8" text-anchor="start" fill="#2a1508" stroke="#2a1508" stroke-width="0.26" font-weight="normal">2.3%</text>
<text transform="translate(296.60,344.30) rotate(0.05) scale(0.940,1.0)" font-size="7.8" text-anchor="start" fill="#2a1508" stroke="#2a1508" stroke-width="0.26" font-weight="normal">CD8</text>
<text transform="translate(374.50,344.30) rotate(0.05) scale(0.904,1.0)" font-size="7.8" text-anchor="start" fill="#2a1508" stroke="#2a1508" stroke-width="0.26" font-weight="normal">1.0%</text>
<text transform="translate(193.70,354.88) rotate(0.05) scale(0.940,1.0)" font-size="7.8" text-anchor="start" fill="#2a1508" stroke="#2a1508" stroke-width="0.26" font-weight="normal">GPR83</text>
<text transform="translate(272.00,354.88) rotate(0.05) scale(0.904,1.0)" font-size="7.8" text-anchor="start" fill="#2a1508" stroke="#2a1508" stroke-width="0.26" font-weight="normal">2.2%</text>
<text transform="translate(296.60,354.88) rotate(0.05) scale(0.940,1.0)" font-size="7.8" text-anchor="start" fill="#2a1508" stroke="#2a1508" stroke-width="0.26" font-weight="normal">CD324 (E-Cadherin)</text>
<text transform="translate(374.50,354.88) rotate(0.05) scale(0.904,1.0)" font-size="7.8" text-anchor="start" fill="#2a1508" stroke="#2a1508" stroke-width="0.26" font-weight="normal">1.0%</text>
<text transform="translate(193.70,365.46) rotate(0.05) scale(0.940,1.0)" font-size="7.8" text-anchor="start" fill="#2a1508" stroke="#2a1508" stroke-width="0.26" font-weight="normal">CD300c</text>
<text transform="translate(272.00,365.46) rotate(0.05) scale(0.904,1.0)" font-size="7.8" text-anchor="start" fill="#2a1508" stroke="#2a1508" stroke-width="0.26" font-weight="normal">2.1%</text>
<text transform="translate(296.60,365.46) rotate(0.05) scale(0.940,1.0)" font-size="7.8" text-anchor="start" fill="#2a1508" stroke="#2a1508" stroke-width="0.26" font-weight="normal">CD255 (TWEAK)</text>
<text transform="translate(374.50,365.46) rotate(0.05) scale(0.904,1.0)" font-size="7.8" text-anchor="start" fill="#2a1508" stroke="#2a1508" stroke-width="0.26" font-weight="normal">0.9%</text>
<text transform="translate(193.70,376.04) rotate(0.05) scale(0.940,1.0)" font-size="7.8" text-anchor="start" fill="#2a1508" stroke="#2a1508" stroke-width="0.26" font-weight="normal">GPR56</text>
<text transform="translate(272.00,376.04) rotate(0.05) scale(0.904,1.0)" font-size="7.8" text-anchor="start" fill="#2a1508" stroke="#2a1508" stroke-width="0.26" font-weight="normal">1.9%</text>
<text transform="translate(296.60,376.04) rotate(0.05) scale(0.940,1.0)" font-size="7.8" text-anchor="start" fill="#2a1508" stroke="#2a1508" stroke-width="0.26" font-weight="normal">CD344 (Frizzled-4)</text>
<text transform="translate(374.50,376.04) rotate(0.05) scale(0.904,1.0)" font-size="7.8" text-anchor="start" fill="#2a1508" stroke="#2a1508" stroke-width="0.26" font-weight="normal">0.9%</text>
</g>
</svg>
</body></html>
